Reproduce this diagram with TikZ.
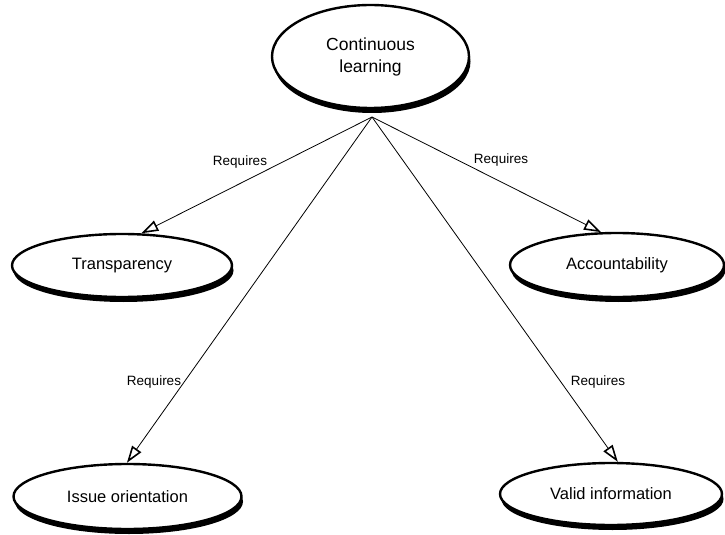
\documentclass[tikz,border=0pt]{standalone}
\usepackage{fontspec}
\setmainfont{Liberation Sans}
\usetikzlibrary{shapes.geometric,shadows,arrows.meta}

\tikzset{
	goal/.style={ellipse, draw, line width=2.4bp, fill=white, inner sep=0pt,
		align=center, font=\fontsize{16.5bp}{22bp}\selectfont,
		drop shadow={shadow xshift=1.5bp, shadow yshift=-5bp, opacity=1, fill=black}},
	needs/.style={line width=0.8bp, -{Triangle[open, length=17bp, width=11bp, line width=1.6bp]}},
	needlabel/.style={font=\fontsize{13.5bp}{15bp}\selectfont, inner sep=1bp}
}

\begin{document}
\begin{tikzpicture}[x=1bp, y=-1bp]
	% page frame
	\useasboundingbox (0,0) rectangle (725,535);

	% goals
	\node[goal, minimum width=197bp, minimum height=103bp, font=\fontsize{17.5bp}{22bp}\selectfont] (cont) at (370.5,56.5) {Continuous\\learning};
	\node[goal, minimum width=220bp, minimum height=63bp] (transp) at (122,265.5) {Transparency};
	\node[goal, minimum width=214bp, minimum height=64bp] (account) at (617,265) {Accountability};
	\node[goal, minimum width=228bp, minimum height=65bp] (issue) at (127.5,496.5) {Issue orientation};
	\node[goal, minimum width=222bp, minimum height=62bp] (valid) at (611,494) {Valid information};

	% meeting point of the links
	\coordinate (hub) at (372,117);

	% links
	\draw[needs] (hub) -- (transp.59);
	\draw[needs] (hub) -- (account.116);
	\draw[needs] (hub) -- (issue.91);
	\draw[needs] (hub) -- (valid.78);

	% link labels
	\node[needlabel] (req1) at (240,162) {Requires};
	\node[needlabel] (req2) at (501,160) {Requires};
	\node[needlabel] (req3) at (154,382) {Requires};
	\node[needlabel] (req4) at (598,382) {Requires};
\end{tikzpicture}
\end{document}
